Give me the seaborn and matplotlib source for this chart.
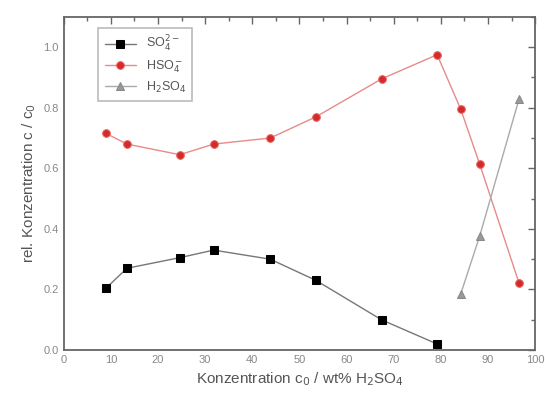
import matplotlib
matplotlib.use("Agg")
import matplotlib.pyplot as plt
import seaborn as sns
import pandas as pd
from matplotlib.ticker import MultipleLocator

# data
x_so4 = [9, 13.4, 24.6, 31.8, 43.8, 53.5, 67.4, 79.2]
y_so4 = [0.205, 0.27, 0.305, 0.33, 0.30, 0.23, 0.10, 0.02]
x_hso4 = [9, 13.4, 24.6, 31.8, 43.8, 53.5, 67.4, 79.2, 84.2, 88.2, 96.6]
y_hso4 = [0.715, 0.68, 0.645, 0.68, 0.70, 0.77, 0.895, 0.975, 0.795, 0.615, 0.22]
x_h2so4 = [84.2, 88.2, 96.6]
y_h2so4 = [0.185, 0.375, 0.83]

sns.set_style("white")
plt.rcParams['font.family'] = ['Liberation Sans', 'DejaVu Sans']
txt = "#555555"

fig = plt.figure(figsize=(5.45, 4.01), dpi=100)
ax = fig.add_axes([0.117, 0.127, 0.865, 0.831])

sns.lineplot(x=x_so4, y=y_so4, ax=ax, color="#777777", lw=1.0,
             marker="s", markersize=5.5, markerfacecolor="black", markeredgecolor="black",
             label=r"SO$_4^{2-}$")
sns.lineplot(x=x_hso4, y=y_hso4, ax=ax, color="#e88a8a", lw=1.0,
             marker="o", markersize=5.5, markerfacecolor="#d42a2a", markeredgecolor="#e86060",
             label=r"HSO$_4^-$")
sns.lineplot(x=x_h2so4, y=y_h2so4, ax=ax, color="#aaaaaa", lw=1.0,
             marker="^", markersize=5.5, markerfacecolor="#999999", markeredgecolor="#888888",
             label=r"H$_2$SO$_4$")

ax.set_xlim(0, 100)
ax.set_ylim(0, 1.1)
ax.xaxis.set_major_locator(MultipleLocator(10))
ax.xaxis.set_minor_locator(MultipleLocator(5))
ax.yaxis.set_minor_locator(MultipleLocator(0.1))
ax.set_yticks([0, 0.2, 0.4, 0.6, 0.8, 1.0])
ax.set_yticklabels(["0.0", "0.2", "0.4", "0.6", "0.8", "1.0"])
ax.tick_params(which="both", direction="in", color="#666666", labelcolor="#888888", labelsize=8)
ax.tick_params(which="major", length=5, width=1)
ax.tick_params(which="minor", length=3, width=1)
ax.tick_params(top=True, right=True, which="both")
for s in ax.spines.values():
    s.set_color("#666666")
    s.set_linewidth(1.3)

ax.set_xlabel(r"Konzentration c$_0$ / wt% H$_2$SO$_4$", color=txt, fontsize=11)
ax.set_ylabel(r"rel. Konzentration c / c$_0$", color=txt, fontsize=11)

leg = ax.legend(loc="upper left", bbox_to_anchor=(0.06, 0.985), frameon=True,
                fancybox=False, edgecolor="#aaaaaa", fontsize=9, labelcolor=txt,
                handlelength=2.5, borderpad=0.5, labelspacing=0.35)
leg.get_frame().set_linewidth(1.2)

fig.savefig("out.png", dpi=100)
